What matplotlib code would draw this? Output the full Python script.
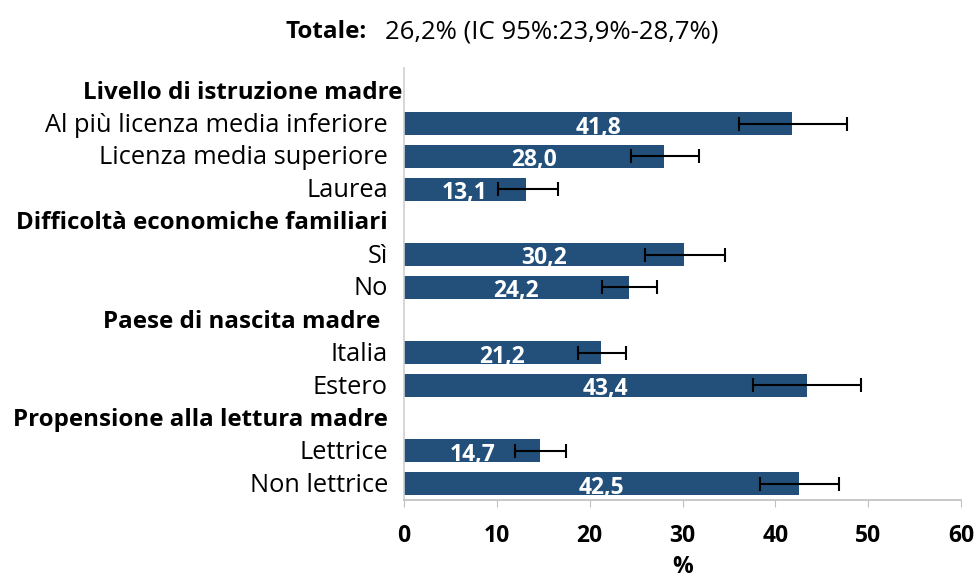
import numpy as np
import matplotlib.pyplot as plt
from matplotlib.transforms import blended_transform_factory

plt.rcParams['font.family'] = ['Open Sans', 'DejaVu Sans']

# righe del grafico (None = intestazione di gruppo)
etichette = ['Livello di istruzione madre', 'Al più licenza media inferiore', 'Licenza media superiore', 'Laurea',
             'Difficoltà economiche familiari', 'Sì', 'No',
             'Paese di nascita madre', 'Italia', 'Estero',
             'Propensione alla lettura madre', 'Lettrice', 'Non lettrice']
intestazioni = [0, 4, 7, 10]
valori = [None, 41.8, 28.0, 13.1, None, 30.2, 24.2, None, 21.2, 43.4, None, 14.7, 42.5]
ic_inf = [None, 36.1, 24.5, 10.1, None, 26.0, 21.3, None, 18.7, 37.6, None, 12.0, 38.3]
ic_sup = [None, 47.7, 31.8, 16.6, None, 34.6, 27.3, None, 23.9, 49.2, None, 17.4, 46.9]

colore = '#22507A'

fig = plt.figure(figsize=(9.79, 5.79), dpi=100)
ax = fig.add_axes([404 / 979, 1 - 500 / 579, (961 - 404) / 979, (500 - 68) / 579])

righe = [i for i, v in enumerate(valori) if v is not None]
v = np.array([valori[i] for i in righe])
lo = np.array([ic_inf[i] for i in righe])
hi = np.array([ic_sup[i] for i in righe])

ax.barh(righe, v, height=0.7, color=colore, zorder=2)
ax.errorbar(v, righe, xerr=[v - lo, hi - v], fmt='none', ecolor='black',
            elinewidth=1.5, capsize=5, capthick=1.5, zorder=3)

for r, val in zip(righe, v):
    ax.text(val / 2, r + 0.12, f'{val:.1f}'.replace('.', ','), ha='center', va='center',
            color='white', fontsize=16.5, fontweight='bold', zorder=4)

ax.set_xlim(0, 60)
ax.set_ylim(12.5, -0.7)
ax.set_xticks(range(0, 61, 10))
ax.set_xticklabels([str(t) for t in range(0, 61, 10)], fontsize=16.5, fontweight='bold')

# etichette categorie e intestazioni di gruppo
trans = blended_transform_factory(fig.transFigure, ax.transData)
ax.set_yticks([])
dx_int = {0: 402, 4: 388, 7: 380, 10: 388}
for i, lab in enumerate(etichette):
    if i in intestazioni:
        ax.text(dx_int[i] / 979, i + 0.05, lab, transform=trans, ha='right', va='center',
                fontsize=17.4, fontweight='bold', clip_on=False)
    else:
        ax.text(388 / 979, i + 0.05, lab, transform=trans, ha='right', va='center',
                fontsize=18.3, clip_on=False)

ax.tick_params(axis='x', length=5, color='#BFBFBF', pad=12)
ax.set_xlabel('%', fontsize=16.5, fontweight='bold', labelpad=5)

for s in ['top', 'right']:
    ax.spines[s].set_visible(False)
ax.spines['left'].set_color('#D0D0D0')
ax.spines['bottom'].set_color('#BFBFBF')
ax.spines['left'].set_linewidth(1.2)
ax.spines['bottom'].set_linewidth(1.2)

fig.text(285 / 979, 1 - 32 / 579, 'Totale:', fontsize=17.5, fontweight='bold', ha='left', va='center')
fig.text(385 / 979, 1 - 32 / 579, '26,2% (IC 95%:23,9%-28,7%)', fontsize=18.5, ha='left', va='center')

fig.savefig('out.png', dpi=100)
